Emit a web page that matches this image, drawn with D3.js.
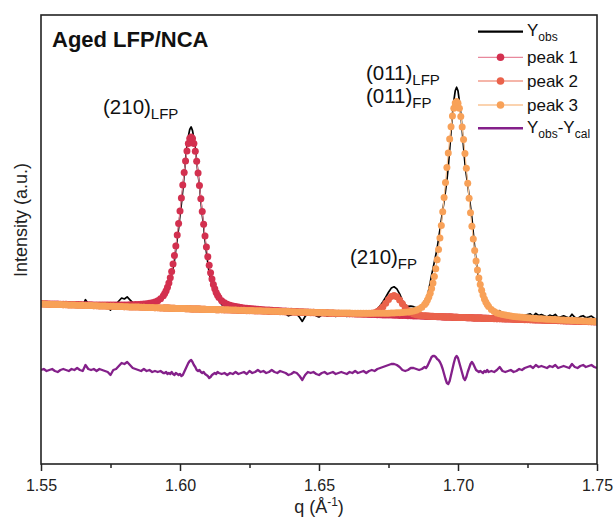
<!DOCTYPE html>
<html><head><meta charset="utf-8">
<script src="https://cdn.jsdelivr.net/npm/d3@7"></script>
<style>body{margin:0;background:#fff}svg{display:block}text{font-family:"Liberation Sans",Arial,Helvetica,sans-serif}</style>
</head><body><svg id="c" width="614" height="520"></svg>
<script>
// ---- data (q in 1/Å, intensity in arbitrary units) ----
const q = [1.550,1.551,1.552,1.553,1.554,1.555,1.556,1.557,1.558,1.559,1.560,1.561,1.562,1.563,1.564,1.565,1.566,1.567,1.568,1.569,1.570,1.571,1.572,1.573,1.574,1.575,1.576,1.577,1.578,1.579,1.580,1.581,1.582,1.583,1.584,1.585,1.586,1.587,1.588,1.589,1.590,1.591,1.592,1.593,1.594,
1.5945,1.5950,1.5955,1.5960,1.5965,1.5970,1.5975,1.5980,1.5985,1.5990,1.5995,1.6000,1.6005,1.6010,1.6015,1.6020,1.6025,1.6030,1.6035,1.6040,1.6045,1.6050,1.6055,1.6060,1.6065,1.6070,1.6075,1.6080,1.6085,1.6090,1.6095,1.6100,1.6105,1.6110,1.6115,1.6120,1.6125,1.6130,1.6135,1.6140,
1.615,1.616,1.617,1.618,1.619,1.620,1.621,1.622,1.623,1.624,1.625,1.626,1.627,1.628,1.629,1.630,1.631,1.632,1.633,1.634,1.635,1.636,1.637,1.638,1.639,1.640,1.641,1.642,1.643,1.644,1.645,1.646,1.647,1.648,1.649,1.650,1.651,1.652,1.653,1.654,1.655,1.656,1.657,1.658,1.659,1.660,1.661,1.662,1.663,1.664,1.665,1.666,1.667,1.668,1.669,1.670,1.671,1.672,1.673,1.674,1.675,1.676,1.677,1.678,1.679,1.680,1.681,1.682,1.683,1.684,1.685,1.686,1.687,1.688,
1.6885,1.6890,1.6895,1.6900,1.6905,1.6910,1.6915,1.6920,1.6925,1.6930,1.6935,1.6940,1.6945,1.6950,1.6955,1.6960,1.6965,1.6970,1.6975,1.6980,1.6985,1.6990,1.6995,1.7000,1.7005,1.7010,1.7015,1.7020,1.7025,1.7030,1.7035,1.7040,1.7045,1.7050,1.7055,1.7060,1.7065,1.7070,1.7075,1.7080,1.7085,1.7090,1.7095,1.7100,1.7105,1.7110,
1.712,1.713,1.714,1.715,1.716,1.717,1.718,1.719,1.720,1.721,1.722,1.723,1.724,1.725,1.726,1.727,1.728,1.729,1.730,1.731,1.732,1.733,1.734,1.735,1.736,1.737,1.738,1.739,1.740,1.741,1.742,1.743,1.744,1.745,1.746,1.747,1.748,1.749,1.750];

const yObs = [160.4,161.3,159.2,160.1,161.1,159.0,157.9,159.8,160.8,159.7,158.6,160.6,159.5,161.4,159.4,158.3,164.3,160.2,159.2,160.1,158.1,160.0,159.0,158.0,156.9,153.9,158.9,159.9,163.0,166.0,165.0,167.1,164.2,161.3,160.4,159.6,158.8,161.0,159.3,160.7,159.3,161.1,161.3,164.2,165.3,
167.5,171.3,172.8,178.1,182.2,190.5,195.9,203.4,215.0,224.9,235.5,249.1,260.0,273.9,289.5,304.0,317.0,327.6,334.5,337.1,333.4,325.5,315.7,302.7,290.0,278.4,263.3,249.4,237.7,224.0,212.0,201.3,190.8,184.2,179.9,175.6,172.3,167.6,166.8,163.5,
159.4,158.3,155.0,156.0,154.2,155.6,153.1,153.7,154.4,152.0,154.7,152.4,153.2,155.0,152.7,153.6,151.4,152.2,154.0,151.8,150.7,152.6,151.4,150.3,148.2,149.0,150.9,149.8,146.7,142.6,147.5,150.4,149.3,150.2,148.1,147.0,148.9,149.8,147.8,148.7,149.6,147.5,148.5,149.4,148.5,147.5,149.5,148.5,150.4,148.4,149.5,150.5,148.6,150.8,152.3,152.0,155.2,158.3,162.2,166.9,171.7,175.9,177.2,175.1,170.2,163.6,159.2,157.6,157.9,157.3,156.3,155.9,158.5,163.2,
164.0,168.5,174.5,181.3,188.9,195.4,202.1,208.8,215.7,225.0,234.4,244.1,253.6,262.9,272.8,283.7,297.4,314.2,332.7,349.2,363.2,373.2,376.8,373.1,362.9,349.9,334.2,316.7,300.7,289.0,278.9,268.0,257.5,245.9,231.2,216.6,203.3,193.2,184.4,178.6,172.0,166.2,164.4,160.2,159.6,155.6,
153.6,150.6,151.3,153.4,148.7,147.1,147.6,148.2,145.8,146.5,148.2,146.9,148.6,149.4,150.2,147.9,150.7,148.5,149.4,148.2,147.0,148.9,147.7,149.6,146.4,147.3,148.1,147.0,145.9,149.8,146.6,145.5,147.4,148.3,146.2,147.0,147.9,145.8,144.7];

const peak1 = [160.4,160.3,160.2,160.1,160.1,160.0,159.9,159.8,159.8,159.7,159.6,159.6,159.5,159.4,159.4,159.3,159.3,159.2,159.2,159.1,159.1,159.0,159.0,159.0,158.9,158.9,158.9,158.9,159.0,159.0,159.0,159.1,159.2,159.3,159.4,159.6,159.8,160.0,160.3,160.7,161.3,162.1,163.3,165.2,168.3,
170.5,173.3,176.8,181.1,186.2,192.5,199.9,208.4,218.0,228.9,240.5,253.1,266.0,278.9,291.5,303.0,313.0,320.6,325.5,327.1,325.4,320.5,312.7,302.7,291.0,278.4,265.3,252.4,239.7,228.0,217.0,207.3,198.8,191.2,184.9,179.6,175.3,171.6,168.8,166.5,
163.3,161.2,159.8,158.8,158.0,157.4,156.9,156.5,156.1,155.8,155.5,155.2,154.9,154.7,154.5,154.3,154.1,153.9,153.7,153.5,153.4,153.2,153.1,153.0,152.8,152.7,152.6,152.4,152.3,152.2,152.1,151.9,151.8,151.7,151.6,151.5,151.4,151.3,151.2,151.1,150.9,150.8,150.7,150.6,150.5,150.4,150.3,150.2,150.1,150.0,149.9,149.8,149.7,149.6,149.5,149.4,149.3,149.2,149.1,149.1,149.0,148.9,148.8,148.7,148.6,148.5,148.4,148.3,148.2,148.1,148.0,147.9,147.8,147.7,
147.7,147.6,147.6,147.5,147.5,147.5,147.4,147.4,147.3,147.3,147.2,147.2,147.1,147.1,147.1,147.0,147.0,146.9,146.9,146.8,146.8,146.7,146.7,146.6,146.6,146.5,146.5,146.4,146.4,146.3,146.3,146.3,146.2,146.2,146.1,146.1,146.1,146.0,146.0,145.9,145.9,145.8,145.8,145.7,145.7,145.7,
145.5,145.4,145.3,145.3,145.2,145.1,145.0,144.9,144.8,144.7,144.6,144.5,144.4,144.4,144.3,144.2,144.1,144.0,143.9,143.8,143.7,143.6,143.5,143.5,143.4,143.3,143.2,143.1,143.0,142.9,142.8,142.7,142.6,142.6,142.5,142.4,142.3,142.2,142.1];

const peak2 = [160.0,159.9,159.8,159.7,159.6,159.6,159.5,159.4,159.3,159.2,159.1,159.0,158.9,158.8,158.7,158.7,158.6,158.5,158.4,158.3,158.2,158.1,158.0,157.9,157.8,157.8,157.7,157.6,157.5,157.4,157.3,157.2,157.1,157.0,156.9,156.9,156.8,156.7,156.6,156.5,156.4,156.3,156.2,156.1,156.0,
156.0,155.9,155.9,155.9,155.8,155.8,155.7,155.7,155.6,155.6,155.5,155.5,155.5,155.4,155.4,155.3,155.3,155.2,155.2,155.1,155.1,155.1,155.0,155.0,154.9,154.9,154.8,154.8,154.7,154.7,154.6,154.6,154.6,154.5,154.5,154.4,154.4,154.3,154.3,154.2,
154.2,154.1,154.0,153.9,153.8,153.7,153.6,153.5,153.4,153.3,153.3,153.2,153.1,153.0,152.9,152.8,152.7,152.6,152.5,152.4,152.4,152.3,152.2,152.1,152.0,151.9,151.8,151.7,151.6,151.5,151.5,151.4,151.3,151.2,151.1,151.0,150.9,150.8,150.7,150.6,150.7,150.6,150.6,150.5,150.4,150.4,150.3,150.2,150.2,150.1,150.1,150.1,150.2,150.3,150.7,151.3,152.4,154.4,157.2,160.7,164.5,167.5,168.6,167.3,164.1,160.2,156.5,153.5,151.3,150.0,149.3,148.7,148.4,148.2,
148.1,148.0,147.9,147.8,147.8,147.7,147.6,147.6,147.5,147.4,147.4,147.3,147.2,147.2,147.1,147.1,147.0,147.0,146.9,146.9,146.8,146.8,146.7,146.7,146.6,146.6,146.5,146.5,146.4,146.4,146.3,146.3,146.2,146.2,146.1,146.1,146.0,146.0,145.9,145.9,145.8,145.8,145.7,145.7,145.6,145.6,
145.4,145.3,145.2,145.2,145.1,145.0,144.9,144.8,144.7,144.6,144.5,144.4,144.3,144.3,144.2,144.1,144.0,143.9,143.8,143.7,143.6,143.5,143.4,143.4,143.3,143.2,143.1,143.0,142.9,142.8,142.7,142.6,142.5,142.5,142.4,142.3,142.2,142.1,142.0];

const peak3 = [160.0,159.9,159.8,159.7,159.6,159.6,159.5,159.4,159.3,159.2,159.1,159.0,158.9,158.8,158.7,158.7,158.6,158.5,158.4,158.3,158.2,158.1,158.0,157.9,157.8,157.8,157.7,157.6,157.5,157.4,157.3,157.2,157.1,157.0,156.9,156.9,156.8,156.7,156.6,156.5,156.4,156.3,156.2,156.1,156.0,
156.0,155.9,155.9,155.9,155.8,155.8,155.7,155.7,155.6,155.6,155.5,155.5,155.5,155.4,155.4,155.3,155.3,155.2,155.2,155.1,155.1,155.1,155.0,155.0,154.9,154.9,154.8,154.8,154.7,154.7,154.6,154.6,154.6,154.5,154.5,154.4,154.4,154.3,154.3,154.2,
154.3,154.2,154.2,154.1,154.0,153.9,153.8,153.7,153.7,153.6,153.5,153.4,153.3,153.2,153.2,153.1,153.0,152.9,152.8,152.7,152.7,152.6,152.5,152.4,152.4,152.3,152.2,152.1,152.0,152.0,151.9,151.8,151.7,151.7,151.6,151.5,151.5,151.4,151.3,151.3,151.2,151.1,151.1,151.0,151.0,150.9,150.9,150.8,150.8,150.8,150.7,150.7,150.7,150.7,150.7,150.7,150.7,150.7,150.7,150.8,150.8,150.9,151.0,151.2,151.3,151.5,151.8,152.1,152.5,153.0,153.8,154.9,156.7,159.5,
161.3,163.9,166.9,170.7,175.4,180.9,187.6,195.3,204.3,214.5,226.0,238.6,252.2,266.6,281.4,296.4,311.0,324.9,337.3,347.9,355.8,360.9,362.5,360.8,355.7,347.6,337.0,324.4,310.5,295.7,280.7,265.7,251.3,237.7,224.9,213.4,203.0,194.0,186.1,179.4,173.7,169.0,165.1,162.0,159.4,157.4,
154.4,152.4,151.1,150.2,149.5,148.9,148.4,148.0,147.6,147.3,147.0,146.7,146.4,146.2,146.0,145.7,145.5,145.3,145.2,145.0,144.8,144.7,144.5,144.4,144.2,144.1,143.9,143.8,143.7,143.6,143.4,143.3,143.2,143.1,143.0,142.8,142.7,142.6,142.5];

// Yobs - Ycal
const residual = [0,1,-1,0,1,-1,-2,0,1,0,-1,1,0,2,0,-1,5,1,0,1,-1,1,0,-1,-2,-5,0,1,4,7,6,8,5,2,1,0,-1,1,-1,0,-2,-1,-2,-1,-3,
-3,-2,-4,-3,-4,-2,-4,-5,-3,-4,-5,-4,-6,-5,-2,1,4,7,9,10,8,5,3,0,-1,0,-2,-3,-2,-4,-5,-6,-8,-7,-5,-4,-3,-4,-2,-3,
-4,-3,-5,-3,-4,-2,-4,-3,-2,-4,-1,-3,-2,0,-2,-1,-3,-2,0,-2,-3,-1,-2,-3,-5,-4,-2,-3,-6,-10,-5,-2,-3,-2,-4,-5,-3,-2,-4,-3,-2,-4,-3,-2,-3,-4,-2,-3,-1,-3,-2,-1,-3,-1,0,-1,1,2,3,4,5,6,6,5,3,0,-1,0,2,2,1,0,1,3,
2,4,7,10,13,14,14,13,11,10,8,5,1,-4,-9,-13,-14,-11,-5,1,7,12,14,12,7,2,-3,-8,-10,-7,-2,2,6,8,6,3,0,-1,-2,-1,-2,-3,-1,-2,0,-2,
-1,-2,0,3,-1,-2,-1,0,-2,-1,1,0,2,3,4,2,5,3,4,3,2,4,3,5,2,3,4,3,2,6,3,2,4,5,3,4,5,3,2];
const residualOffset = 94;   // vertical offset of the difference curve

const xTicks = [1.55, 1.60, 1.65, 1.70, 1.75];
const xMinorTicks = [1.575, 1.625, 1.675, 1.725];

// ---- drawing ----
const FONT = '"Liberation Sans",Arial,Helvetica,sans-serif';
const svg = d3.select("#c");
const x = d3.scaleLinear().domain([1.55, 1.75]).range([41, 597]);
const y = d3.scaleLinear().domain([0, 449]).range([464, 15]);

svg.append("defs").append("clipPath").attr("id", "clip")
  .append("rect").attr("x", 41).attr("y", 15).attr("width", 556).attr("height", 449);
const plot = svg.append("g").attr("clip-path", "url(#clip)");
const idx = d3.range(q.length);
const mkLine = arr => d3.line().x(i => x(q[i])).y(i => y(arr[i]))(idx);

plot.append("path").attr("d", mkLine(yObs)).attr("fill", "none")
  .attr("stroke", "#000").attr("stroke-width", 1.7).attr("stroke-linejoin", "round");

const peaks = [
  {vals: peak1, fill: "#d3304f", line: "#e8889c", name: "peak 1"},
  {vals: peak2, fill: "#ea624b", line: "#f29c8d", name: "peak 2"},
  {vals: peak3, fill: "#f8a158", line: "#fac494", name: "peak 3"}
];
peaks.forEach(p => {
  const g = plot.append("g");
  g.append("path").attr("d", mkLine(p.vals)).attr("fill", "none")
    .attr("stroke", p.line).attr("stroke-width", 1.2);
  g.selectAll("circle").data(idx).join("circle")
    .attr("cx", i => x(q[i])).attr("cy", i => y(p.vals[i])).attr("r", 3.5)
    .attr("fill", p.fill);
});

plot.append("path")
  .attr("d", d3.line().x(i => x(q[i])).y(i => y(residualOffset + residual[i]))(idx))
  .attr("fill", "none").attr("stroke", "#84208a").attr("stroke-width", 2.3)
  .attr("stroke-linejoin", "round");

// axis
const gx = svg.append("g").attr("transform", "translate(0,464)")
  .call(d3.axisBottom(x).tickValues(xTicks).tickFormat(d3.format(".2f"))
    .tickSizeInner(7).tickSizeOuter(0).tickPadding(9));
gx.select(".domain").remove();
gx.attr("font-size", 16).attr("font-family", FONT);
gx.selectAll("line").attr("stroke", "#222").attr("stroke-width", 1.5);
gx.selectAll("text").attr("fill", "#222");
const gm = svg.append("g").attr("transform", "translate(0,464)")
  .call(d3.axisBottom(x).tickValues(xMinorTicks).tickFormat("").tickSizeInner(4).tickSizeOuter(0));
gm.select(".domain").remove();
gm.selectAll("text").remove();
gm.selectAll("line").attr("stroke", "#222").attr("stroke-width", 1.5);

// frame
svg.append("rect").attr("x", 41).attr("y", 15).attr("width", 556).attr("height", 449)
  .attr("fill", "none").attr("stroke", "#222").attr("stroke-width", 1.6);

// axis titles
const xt = svg.append("text").attr("x", 319).attr("y", 513).attr("text-anchor", "middle")
  .attr("font-size", 18).attr("fill", "#222");
xt.append("tspan").text("q (Å");
xt.append("tspan").attr("font-size", 12).attr("dy", -7).text("-1");
xt.append("tspan").attr("dy", 7).text(")");

svg.append("text").attr("transform", "translate(27,220) rotate(-90)")
  .attr("text-anchor", "middle").attr("font-size", 18).attr("fill", "#222")
  .text("Intensity (a.u.)");

// title
svg.append("text").attr("x", 52).attr("y", 46.5).attr("font-size", 22)
  .attr("font-weight", "bold").attr("fill", "#111").text("Aged LFP/NCA");

// peak annotations
function note(px, py, main, sub) {
  const t = svg.append("text").attr("x", px).attr("y", py).attr("font-size", 20.5).attr("fill", "#111");
  t.append("tspan").text(main);
  t.append("tspan").attr("font-size", 15).attr("dy", 5).text(sub);
}
note(103, 114, "(210)", "LFP");
note(366, 80, "(011)", "LFP");
note(366, 103, "(011)", "FP");
note(350, 264, "(210)", "FP");

// legend
const lg = svg.append("g");
const lx0 = 478, lx1 = 523, lm = 500.5, tx = 527;
function subText(yb, parts) {
  const t = lg.append("text").attr("x", tx).attr("y", yb).attr("font-size", 17).attr("fill", "#111");
  parts.forEach(([s, isSub]) => {
    const sp = t.append("tspan").text(s);
    if (isSub) sp.attr("font-size", 12).attr("dy", 5);
    else sp.attr("dy", t.selectAll("tspan").size() > 1 ? -5 : 0);
  });
}
lg.append("line").attr("x1", lx0).attr("x2", lx1).attr("y1", 31.7).attr("y2", 31.7)
  .attr("stroke", "#000").attr("stroke-width", 2.2);
subText(36, [["Y", false], ["obs", true]]);
const rows = [57.3, 81, 105];
peaks.forEach((p, k) => {
  const yy = rows[k];
  lg.append("line").attr("x1", lx0).attr("x2", lx1).attr("y1", yy).attr("y2", yy)
    .attr("stroke", p.line).attr("stroke-width", 1.3);
  lg.append("circle").attr("cx", lm).attr("cy", yy).attr("r", 3.8).attr("fill", p.fill);
  lg.append("text").attr("x", tx).attr("y", yy + 6).attr("font-size", 17).attr("fill", "#111").text(p.name);
});
lg.append("line").attr("x1", lx0).attr("x2", lx1).attr("y1", 128.3).attr("y2", 128.3)
  .attr("stroke", "#84208a").attr("stroke-width", 2.4);
subText(133, [["Y", false], ["obs", true], ["-Y", false], ["cal", true]]);
</script>
</body></html>
